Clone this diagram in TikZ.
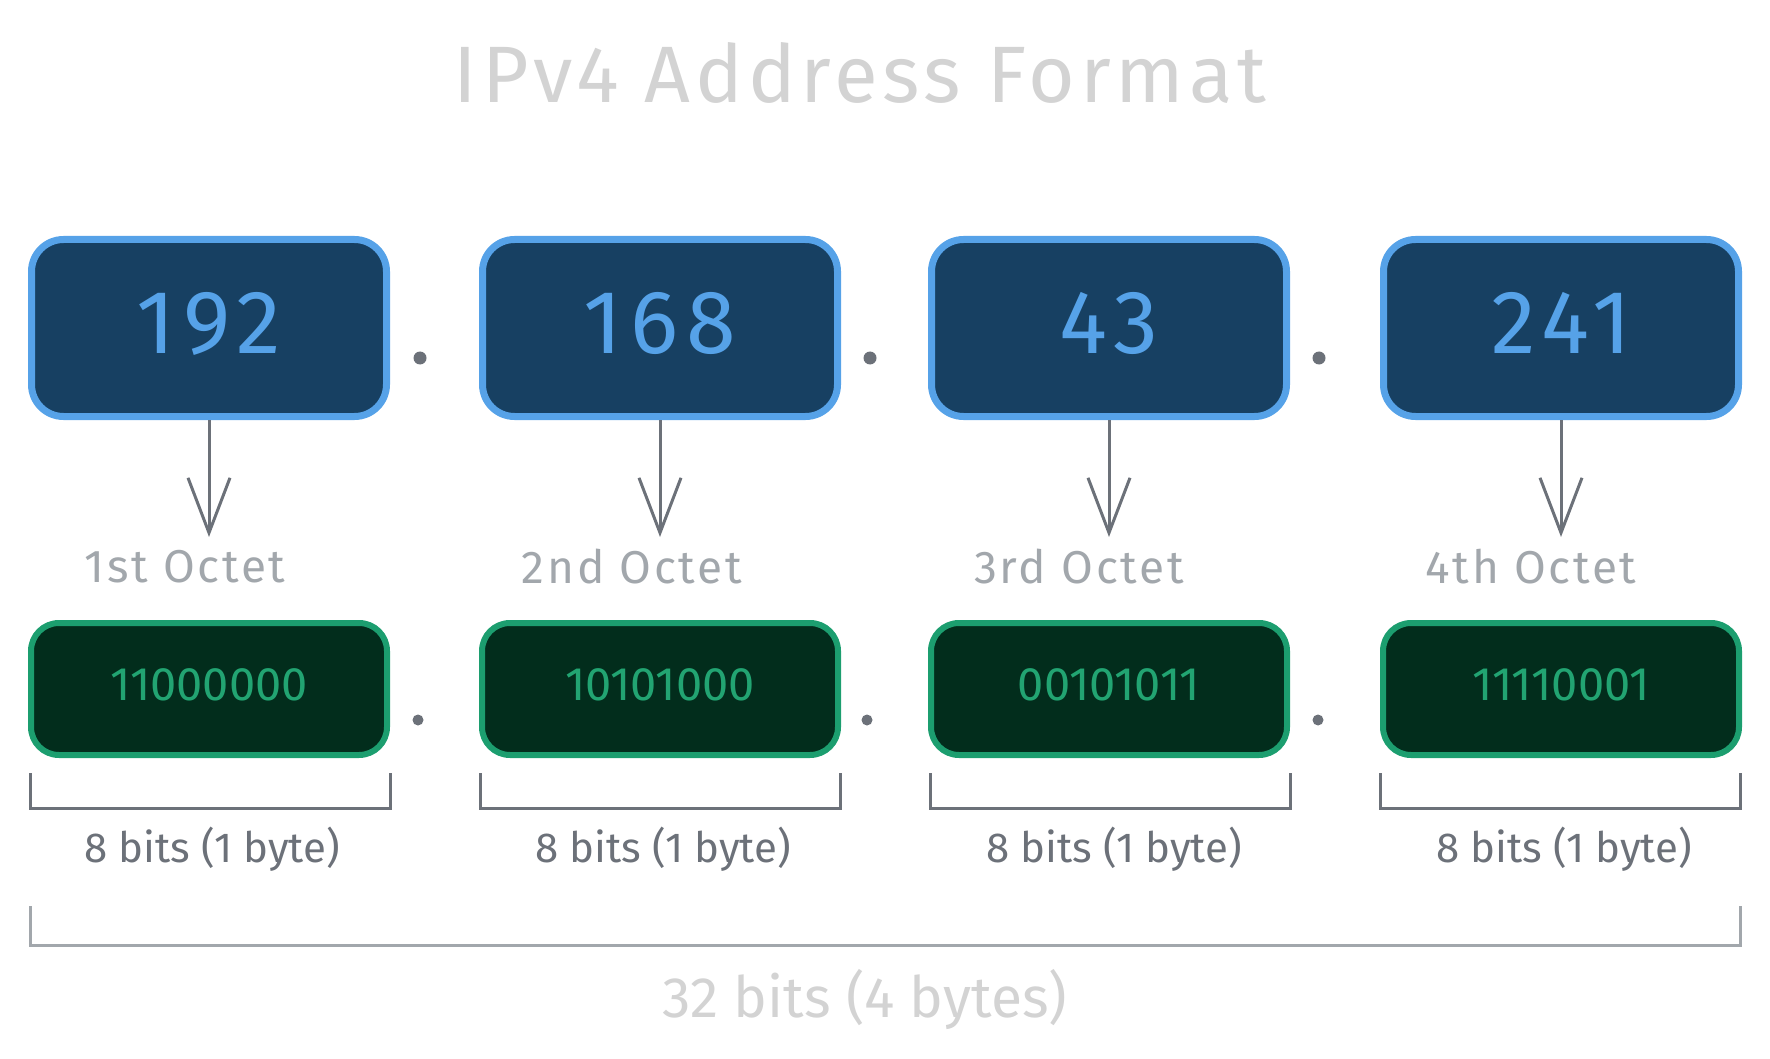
\documentclass[tikz,border=0pt]{standalone}
\usepackage{fontspec}
\setmainfont{Fira Sans}
\usetikzlibrary{arrows.meta}
\definecolor{bfill}{HTML}{174062}
\definecolor{bline}{HTML}{56A2E8}
\definecolor{gfill}{HTML}{022D1C}
\definecolor{gline}{HTML}{1C9E6F}
\definecolor{gtext}{HTML}{22A472}
\definecolor{lgray}{HTML}{A2A7AC}
\definecolor{dgray}{HTML}{6C7179}
\definecolor{tgray}{HTML}{D3D3D3}
\tikzset{
  bluebox/.style={draw=bline, fill=bfill, line width=7pt, rounded corners=32pt,
    minimum width=355pt, minimum height=177pt, text=bline,
    font=\fontsize{90}{104}\selectfont\addfontfeatures{LetterSpace=9},
    text height=62pt, text depth=10pt, inner sep=0pt},
  greenbox/.style={draw=gline, fill=gfill, line width=6pt, rounded corners=28pt,
    minimum width=356pt, minimum height=132pt, text=gtext,
    font=\fontsize{47}{56}\selectfont,
    text height=32pt, text depth=10pt, inner sep=0pt},
  octlabel/.style={text=lgray, font=\fontsize{46}{54}\selectfont\addfontfeatures{LetterSpace=6}, inner sep=0pt},
  bitslabel/.style={text=dgray, font=\fontsize{42}{50}\selectfont, inner sep=0pt},
  downarrow/.style={draw=dgray, line width=3pt,
    -{Straight Barb[length=55pt,width=42pt,line width=3pt]}},
  bracket/.style={draw=dgray, line width=3pt},
  bigbracket/.style={draw=lgray, line width=3pt},
  sepdot/.style={circle, fill=dgray, inner sep=0pt, minimum size=13pt},
  sepdotsmall/.style={circle, fill=dgray, inner sep=0pt, minimum size=11pt},
}
\begin{document}
\begin{tikzpicture}[x=1pt, y=-1pt]
\useasboundingbox (0,0) rectangle (1770,1059);
% title
\node[text=tgray, font=\fontsize{80}{96}\selectfont\addfontfeatures{LetterSpace=6}, inner sep=0pt] (title) at (860,73) {IPv4 Address Format};
% blue boxes
\node[bluebox] (b1) at (209,328) {192};
\node[bluebox] (b2) at (660,328) {168};
\node[bluebox] (b3) at (1109,328) {43};
\node[bluebox] (b4) at (1561,328) {241};
\node[sepdot] (d1) at (420,358) {};
\node[sepdot] (d2) at (870,358) {};
\node[sepdot] (d3) at (1319,358) {};
% octet labels
\node[octlabel] (o1) at (185,567) {1st Octet};
\node[octlabel] (o2) at (632,567) {2nd Octet};
\node[octlabel] (o3) at (1079,567) {3rd Octet};
\node[octlabel] (o4) at (1531,567) {4th Octet};
% arrow ends
\coordinate (a1) at (209,537);
\coordinate (a2) at (660,537);
\coordinate (a3) at (1109,537);
\coordinate (a4) at (1561,537);
\draw[downarrow] (b1.south) -- (a1);
\draw[downarrow] (b2.south) -- (a2);
\draw[downarrow] (b3.south) -- (a3);
\draw[downarrow] (b4.south) -- (a4);
% green boxes
\node[greenbox] (g1) at (209,689) {11000000};
\node[greenbox] (g2) at (660,689) {10101000};
\node[greenbox] (g3) at (1109,689) {00101011};
\node[greenbox] (g4) at (1561,689) {11110001};
\node[sepdotsmall] (e1) at (418,720) {};
\node[sepdotsmall] (e2) at (867,720) {};
\node[sepdotsmall] (e3) at (1318,720) {};
% small brackets
\foreach \c in {210,660,1110,1560}{
  \draw[bracket] (\c-180,773) -- (\c-180,808) -- (\c+180,808) -- (\c+180,773);
}
\node[bitslabel] (t1) at (212,849) {8 bits (1 byte)};
\node[bitslabel] (t2) at (663,849) {8 bits (1 byte)};
\node[bitslabel] (t3) at (1114,849) {8 bits (1 byte)};
\node[bitslabel] (t4) at (1564,849) {8 bits (1 byte)};
% big bracket
\draw[bigbracket] (30,906) -- (30,945) -- (1740,945) -- (1740,906);
\node[text=tgray, font=\fontsize{57}{68}\selectfont, inner sep=0pt] (total) at (865,999) {32 bits (4 bytes)};
\end{tikzpicture}
\end{document}
